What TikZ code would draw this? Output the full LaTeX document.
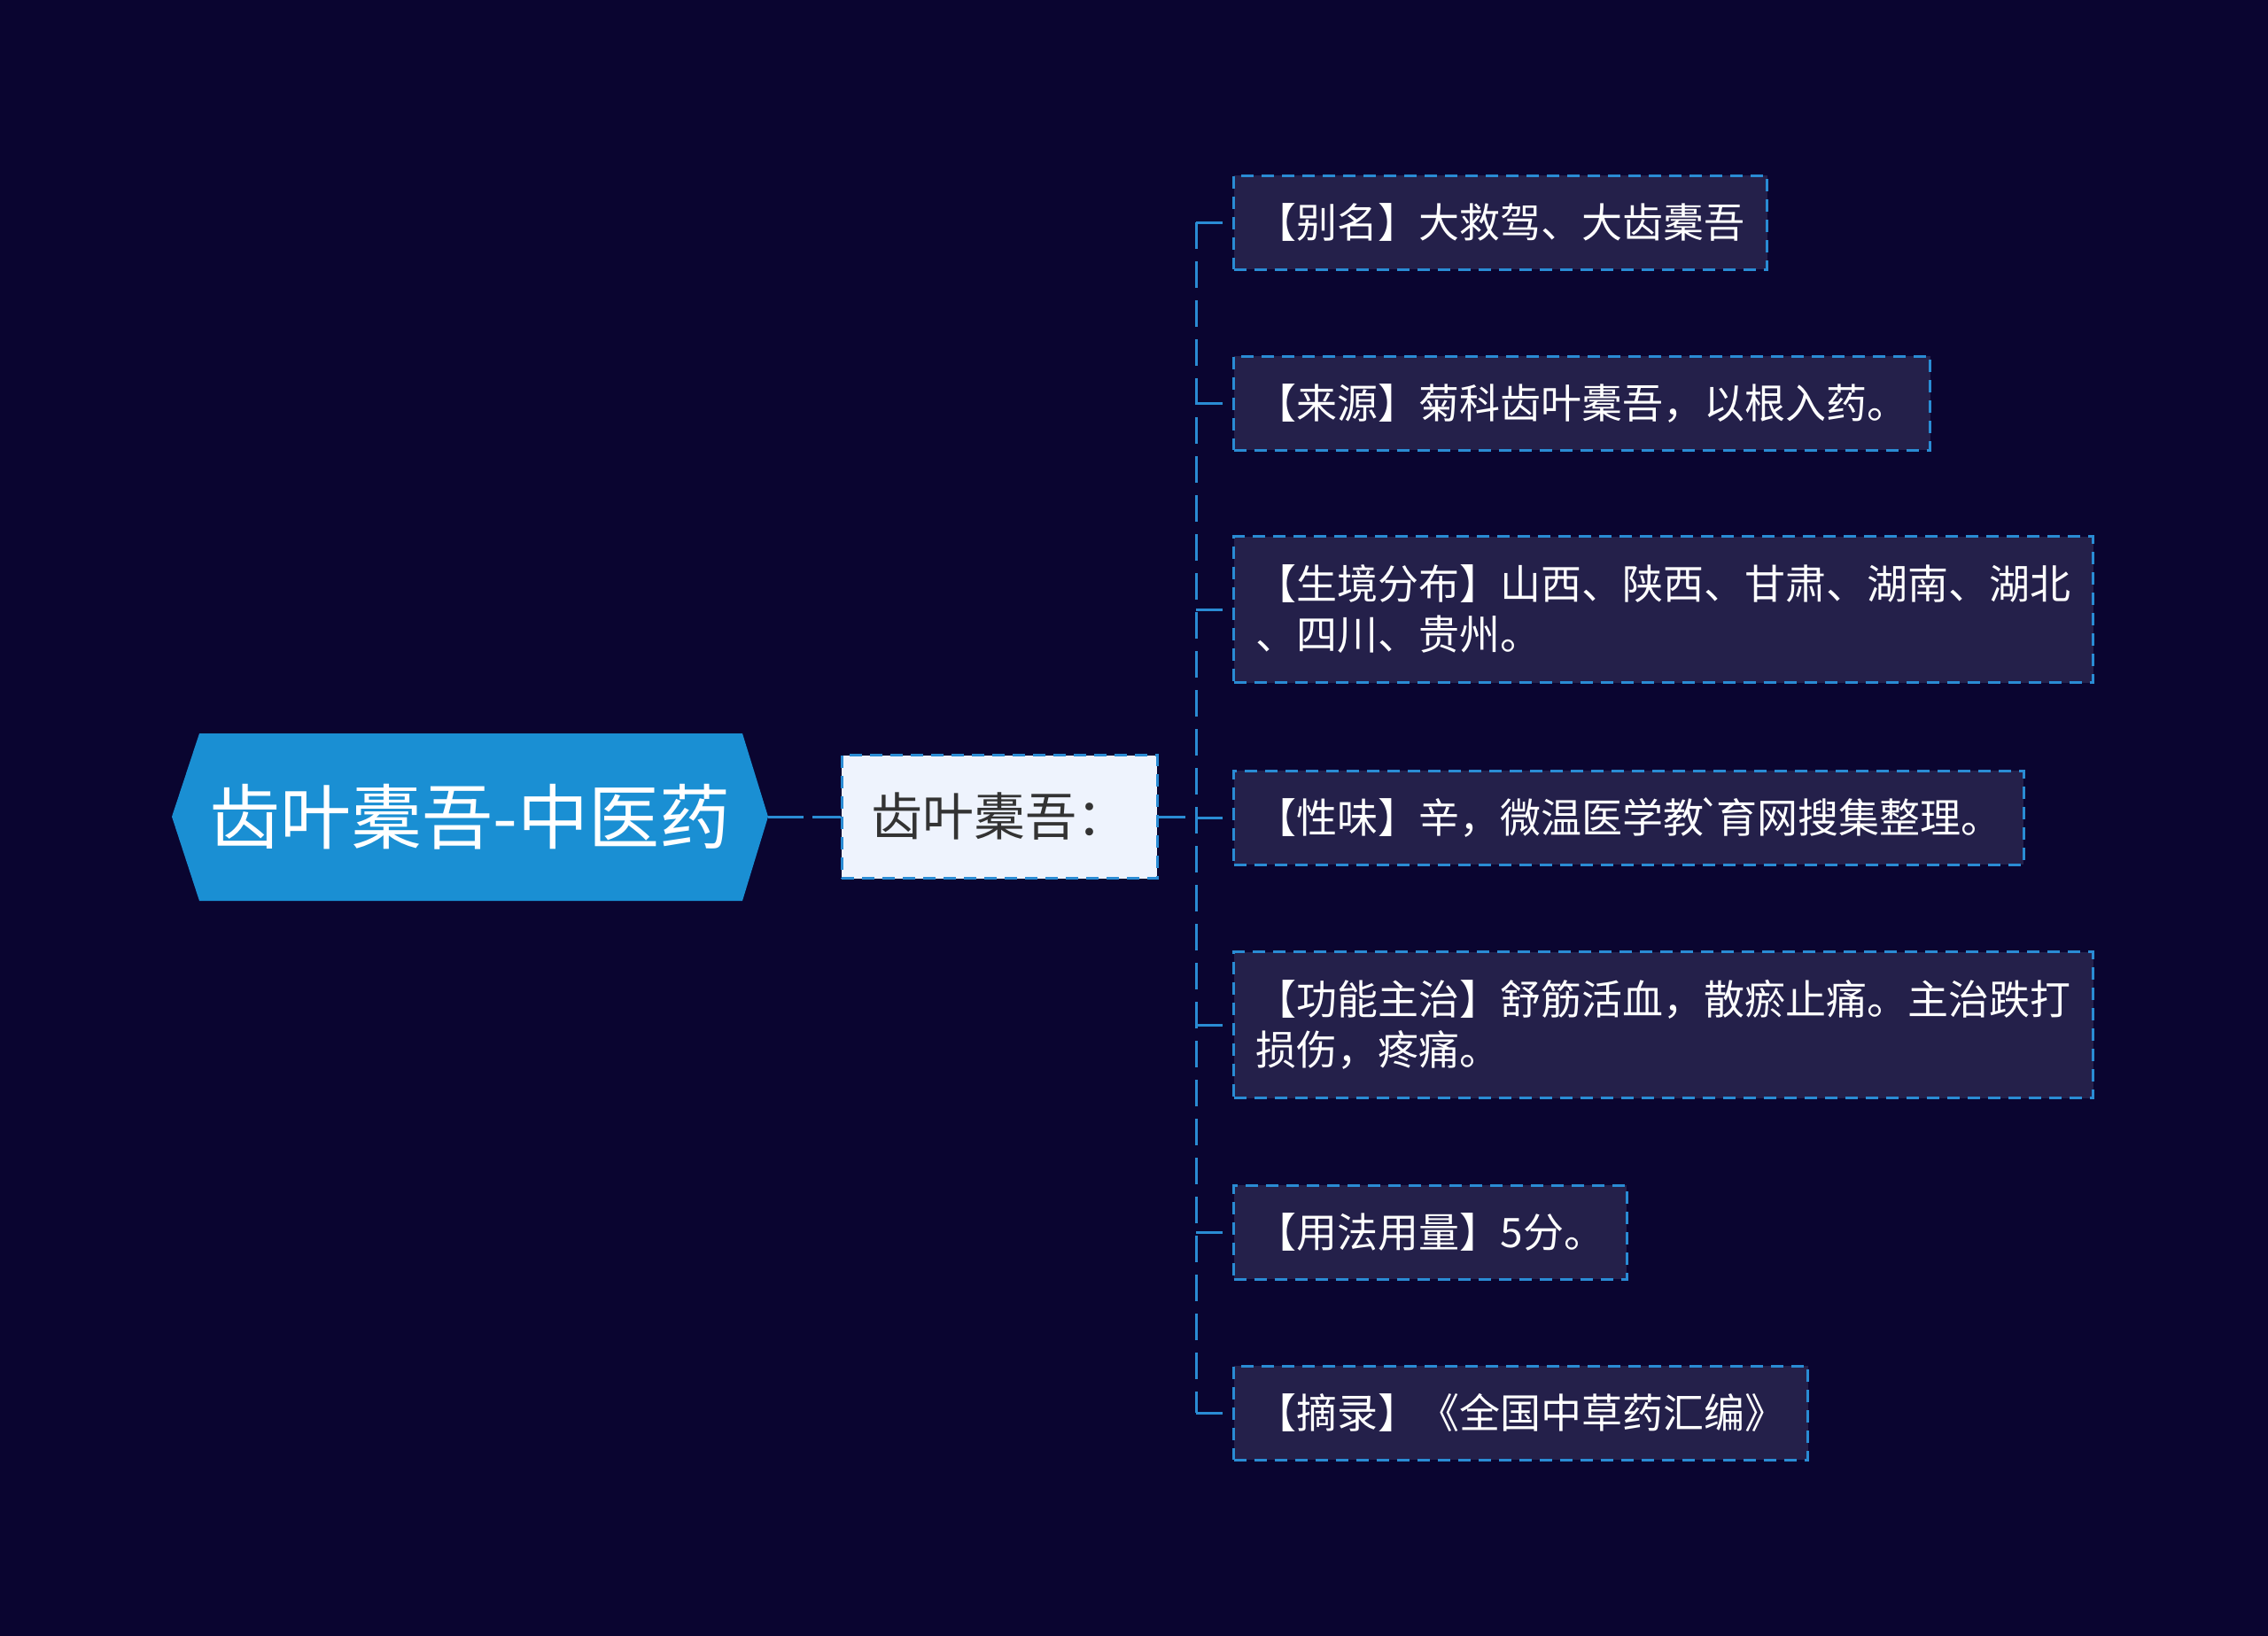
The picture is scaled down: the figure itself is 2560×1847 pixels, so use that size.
\documentclass[tikz,border=0pt]{standalone}
\usepackage{fontspec}
\setmainfont{Noto Sans CJK SC}
\usetikzlibrary{positioning}

\definecolor{bgnavy}{HTML}{0A0530}
\definecolor{leaffill}{HTML}{24204A}
\definecolor{linkblue}{HTML}{2A8CD4}
\definecolor{rootblue}{HTML}{1A8FD3}
\definecolor{midfill}{HTML}{EEF3FD}
\definecolor{midtext}{HTML}{333333}

\begin{document}
\begin{tikzpicture}[x=1pt, y=-1pt,
    roottext/.style={inner sep=0pt, minimum width=673pt, minimum height=189pt,
        text=white, font=\fontsize{80}{90}\selectfont},
    midbox/.style={draw=linkblue, line width=3pt, dash pattern=on 14pt off 9pt,
        fill=midfill, text=midtext, inner xsep=33pt, minimum height=139pt,
        font=\fontsize{58}{66}\selectfont},
    leafbox/.style={draw=linkblue, line width=3pt, dash pattern=on 14pt off 9pt,
        fill=leaffill, text=white, anchor=west, align=left, inner xsep=25pt,
        minimum height=106pt, font=\fontsize{46}{57}\selectfont},
    link/.style={draw=linkblue, line width=3pt, dash pattern=on 30pt off 14pt}]

        % Background
        \fill[bgnavy] (0,0) rectangle (2560,1847);
        \useasboundingbox (0,0) rectangle (2560,1847);

        % Root hexagon
        \fill[rootblue] (194,922) -- (225,828) -- (838,828) -- (867,922)
            -- (838,1017) -- (225,1017) -- cycle;
        \node[roottext] (root) at (530.5,922) {齿叶橐吾-中医药};

        % Middle node
        \node[midbox] (mid) at (1128,922) {齿叶橐吾：};

        % Leaves
        \node[leafbox] (l1) at (1391,251) {【别名】大救驾、大齿橐吾};
        \node[leafbox] (l2) at (1391,455) {【来源】菊科齿叶橐吾，以根入药。};
        \node[leafbox, minimum height=165pt] (l3) at (1391,688)
            {【生境分布】山西、陕西、甘肃、湖南、湖北\\、四川、贵州。};
        \node[leafbox] (l4) at (1391,923)
            {【性味】辛，微温医学教\kern-7pt\textasciigrave\kern-7pt 育网搜集整理。};
        \node[leafbox, minimum height=165pt] (l5) at (1391,1157)
            {【功能主治】舒筋活血，散瘀止痛。主治跌打\\损伤，疼痛。};
        \node[leafbox] (l6) at (1391,1391) {【用法用量】5分。};
        \node[leafbox] (l7) at (1391,1595) {【摘录】《全国中草药汇编》};

        % Connectors
        \coordinate (trunk) at (1350,922);
        \draw[link, dash pattern=on 40pt off 10pt] (root.east) -- (mid.west);
        \draw[link] (mid.east) -- (trunk);
        \draw[link] (trunk |- l1.west) -- (trunk |- l7.west);
        \foreach \leaf in {l1,l2,l3,l4,l5,l6,l7}
            \draw[link] (trunk |- \leaf.west) -- (\leaf.west);

\end{tikzpicture}
\end{document}
